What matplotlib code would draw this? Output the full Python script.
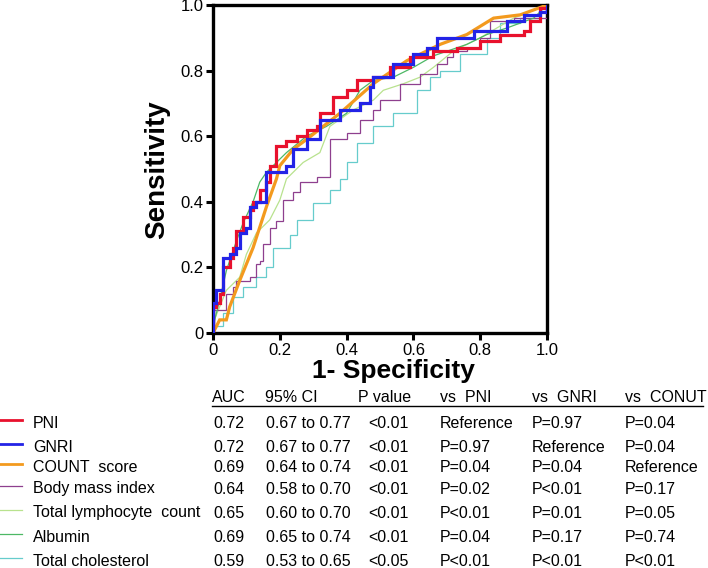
import matplotlib
matplotlib.use("Agg")
import matplotlib.pyplot as plt
from matplotlib.lines import Line2D

plt.rcParams['font.family'] = ['Liberation Sans', 'DejaVu Sans']

# ---------------- data ----------------
pni_x = [0, 0, 0.01, 0.02, 0.03, 0.05, 0.06, 0.07, 0.09, 0.11, 0.12, 0.14, 0.16, 0.17, 0.19, 0.22, 0.25, 0.28, 0.31, 0.32, 0.36, 0.40, 0.43, 0.48, 0.50, 0.53, 0.59, 0.66, 0.73, 0.80, 0.86, 0.93, 0.95, 0.98, 1.0]
pni_y = [0, 0.08, 0.09, 0.12, 0.20, 0.23, 0.26, 0.31, 0.355, 0.375, 0.40, 0.435, 0.46, 0.51, 0.57, 0.585, 0.60, 0.62, 0.63, 0.67, 0.72, 0.74, 0.77, 0.78, 0.78, 0.81, 0.84, 0.86, 0.87, 0.89, 0.91, 0.92, 0.95, 0.99, 1.0]

gnri_x = [0, 0, 0.01, 0.03, 0.03, 0.05, 0.07, 0.08, 0.10, 0.11, 0.13, 0.16, 0.16, 0.20, 0.22, 0.24, 0.28, 0.32, 0.38, 0.44, 0.47, 0.48, 0.54, 0.60, 0.64, 0.67, 0.78, 0.88, 0.93, 0.98, 1.0]
gnri_y = [0, 0.09, 0.13, 0.17, 0.23, 0.24, 0.26, 0.305, 0.32, 0.385, 0.40, 0.43, 0.49, 0.49, 0.51, 0.56, 0.59, 0.65, 0.68, 0.70, 0.75, 0.78, 0.82, 0.85, 0.87, 0.90, 0.92, 0.95, 0.97, 0.98, 1.0]

count_x = [0, 0.02, 0.04, 0.05, 0.08, 0.12, 0.16, 0.19, 0.20, 0.24, 0.28, 0.38, 0.48, 0.58, 0.68, 0.76, 0.84, 0.92, 1.0]
count_y = [0, 0.04, 0.04, 0.08, 0.16, 0.26, 0.385, 0.47, 0.51, 0.56, 0.59, 0.67, 0.76, 0.83, 0.88, 0.91, 0.96, 0.97, 1.0]

bmi_x = [0, 0, 0.04, 0.06, 0.07, 0.11, 0.13, 0.14, 0.15, 0.17, 0.19, 0.21, 0.24, 0.26, 0.31, 0.35, 0.35, 0.40, 0.44, 0.48, 0.50, 0.56, 0.62, 0.67, 0.70, 0.72, 0.76, 0.80, 0.83, 0.90, 1.0]
bmi_y = [0, 0.07, 0.12, 0.14, 0.16, 0.17, 0.21, 0.22, 0.27, 0.32, 0.34, 0.405, 0.43, 0.46, 0.475, 0.51, 0.59, 0.61, 0.65, 0.68, 0.71, 0.76, 0.79, 0.82, 0.84, 0.86, 0.87, 0.90, 0.95, 0.96, 1.0]

tlc_x = [0, 0, 0.04, 0.08, 0.10, 0.13, 0.17, 0.19, 0.20, 0.22, 0.27, 0.32, 0.35, 0.42, 0.48, 0.51, 0.57, 0.62, 0.66, 0.72, 0.80, 0.90, 1.0]
tlc_y = [0, 0.03, 0.13, 0.17, 0.24, 0.305, 0.345, 0.385, 0.405, 0.47, 0.52, 0.55, 0.63, 0.68, 0.71, 0.74, 0.76, 0.78, 0.81, 0.86, 0.90, 0.96, 1.0]

alb_x = [0, 0, 0.02, 0.04, 0.07, 0.09, 0.12, 0.14, 0.16, 0.22, 0.28, 0.34, 0.40, 0.44, 0.48, 0.54, 0.60, 0.66, 0.76, 0.82, 0.88, 0.96, 1.0]
alb_y = [0, 0.02, 0.10, 0.19, 0.28, 0.335, 0.40, 0.46, 0.49, 0.55, 0.60, 0.63, 0.67, 0.74, 0.77, 0.78, 0.81, 0.845, 0.88, 0.91, 0.93, 0.96, 1.0]

chol_x = [0, 0, 0.03, 0.06, 0.09, 0.13, 0.16, 0.18, 0.23, 0.25, 0.30, 0.35, 0.38, 0.40, 0.43, 0.48, 0.54, 0.61, 0.65, 0.68, 0.74, 0.82, 0.86, 0.92, 0.98, 1.0]
chol_y = [0, 0.02, 0.06, 0.11, 0.14, 0.17, 0.20, 0.26, 0.30, 0.345, 0.395, 0.435, 0.47, 0.52, 0.58, 0.63, 0.67, 0.74, 0.78, 0.80, 0.85, 0.90, 0.945, 0.96, 0.99, 1.0]

labels = ["PNI", "GNRI", "COUNT  score", "Body mass index", "Total lymphocyte  count", "Albumin", "Total cholesterol"]
auc = ["0.72", "0.72", "0.69", "0.64", "0.65", "0.69", "0.59"]
ci = ["0.67 to 0.77", "0.67 to 0.77", "0.64 to 0.74", "0.58 to 0.70", "0.60 to 0.70", "0.65 to 0.74", "0.53 to 0.65"]
pval = ["<0.01", "<0.01", "<0.01", "<0.01", "<0.01", "<0.01", "<0.05"]
vs_pni = ["Reference", "P=0.97", "P=0.04", "P=0.02", "P<0.01", "P=0.04", "P<0.01"]
vs_gnri = ["P=0.97", "Reference", "P=0.04", "P<0.01", "P=0.01", "P=0.17", "P<0.01"]
vs_conut = ["P=0.04", "P=0.04", "Reference", "P=0.17", "P=0.05", "P=0.74", "P<0.01"]
headers = ["AUC", "95% CI", "P value", "vs  PNI", "vs  GNRI", "vs  CONUT"]
ticks = [0, 0.2, 0.4, 0.6, 0.8, 1.0]
tick_labels = ["0", "0.2", "0.4", "0.6", "0.8", "1.0"]

colors = ["#E8112D", "#2323E6", "#F39A1E", "#8E3F8E", "#B8E28E", "#4DB865", "#66CCCC"]
widths = [2.3, 2.3, 2.3, 0.9, 0.9, 0.9, 0.9]
series = [(pni_x, pni_y, 'steps-post'), (gnri_x, gnri_y, 'steps-post'), (count_x, count_y, 'default'),
          (bmi_x, bmi_y, 'steps-post'), (tlc_x, tlc_y, 'default'), (alb_x, alb_y, 'default'),
          (chol_x, chol_y, 'steps-post')]

# ---------------- figure ----------------
W, H = 708, 568
fig = plt.figure(figsize=(W / 100, H / 100), dpi=100)
L, R, T, B = 213, 547, 5, 333
ax = fig.add_axes([L / W, 1 - B / H, (R - L) / W, (B - T) / H])

order = [6, 4, 3, 5, 2, 0, 1]
for i in order:
    xs, ys, ds = series[i]
    ax.plot(xs, ys, color=colors[i], lw=widths[i], drawstyle=ds, zorder=3 + (1 if i < 3 else 0),
            solid_joinstyle='miter')

ax.set_xlim(0, 1)
ax.set_ylim(0, 1)
ax.set_xticks(ticks)
ax.set_xticklabels(tick_labels)
ax.set_yticks(ticks)
ax.set_yticklabels(tick_labels)
for s in ax.spines.values():
    s.set_linewidth(2.4)
ax.tick_params(direction='out', length=5, width=2.2, labelsize=12, pad=2)

def fx(px):
    return px / W

def fy(py):
    return 1 - py / H

fig.text(fx(157), fy(170), "Sensitivity", rotation=90, ha='center', va='center',
         fontsize=20, fontweight='bold')
fig.text(fx(393), fy(378), "1- Specificity", ha='center', va='baseline',
         fontsize=19, fontweight='bold')

# ---------------- table ----------------
fs = 11.5
col_x = [212, 265, 358, 440, 532, 625]
val_x = [213, 266, 368, 440, 532, 625]
head_y = 398
for cx, h in zip(col_x, headers):
    fig.text(fx(cx), fy(head_y), h, fontsize=fs, va='center')
fig.add_artist(Line2D([fx(212), fx(703)], [fy(406), fy(406)], color='black', lw=1.0))

row_y = [423, 447, 467, 489, 513, 537, 561]
for i, ry in enumerate(row_y):
    fig.add_artist(Line2D([fx(0), fx(22)], [fy(ry - 3), fy(ry - 3)], color=colors[i],
                          lw=min(widths[i], 2.0)))
    fig.text(fx(33), fy(ry), labels[i], fontsize=fs, va='center')
    fig.text(fx(val_x[0]), fy(ry), auc[i], fontsize=fs, va='center')
    fig.text(fx(val_x[1]), fy(ry), ci[i], fontsize=fs, va='center')
    fig.text(fx(val_x[2]), fy(ry), pval[i], fontsize=fs, va='center')
    fig.text(fx(val_x[3]), fy(ry), vs_pni[i], fontsize=fs, va='center')
    fig.text(fx(val_x[4]), fy(ry), vs_gnri[i], fontsize=fs, va='center')
    fig.text(fx(val_x[5]), fy(ry), vs_conut[i], fontsize=fs, va='center')

fig.savefig("out.png", dpi=100)
